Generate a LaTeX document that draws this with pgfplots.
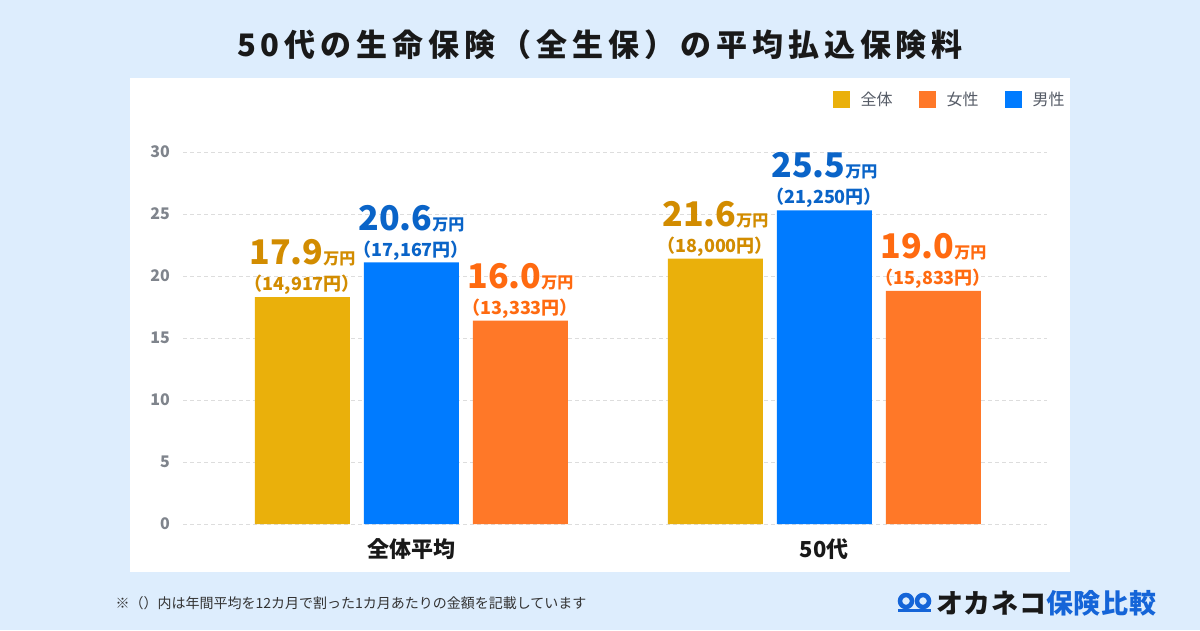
\documentclass[border=0pt]{standalone}
\usepackage{fontspec}
\setmainfont{Noto Sans CJK JP}
\usepackage{pgfplots}
\pgfplotsset{compat=1.18}
\definecolor{bg}{HTML}{DDEDFD}
\definecolor{cyel}{HTML}{EAB00B}
\definecolor{cblu}{HTML}{007BFF}
\definecolor{cora}{HTML}{FF7828}
\definecolor{tyel}{HTML}{D28C00}
\definecolor{tblu}{HTML}{0A64C8}
\definecolor{tora}{HTML}{FF6A10}
\definecolor{ticktxt}{HTML}{7F848C}
\definecolor{legtxt}{HTML}{555B66}
\definecolor{gridc}{HTML}{DDDDDD}
\definecolor{logoblue}{HTML}{1565D8}
\def\barlab#1/#2\relax{{\fontsize{34}{34}\selectfont\bfseries #1}{\fontsize{16}{16}\selectfont\bfseries 万円}\\{\fontsize{18}{18}\selectfont\bfseries （#2円）}}
\begin{document}
\begin{tikzpicture}[x=1pt,y=1pt]
\useasboundingbox (0,0) rectangle (1200,630);
\fill[bg] (0,0) rectangle (1200,630);
\fill[white] (130,58) rectangle (1070,552);
\node[font=\fontsize{31}{31}\selectfont\bfseries\addfontfeature{LetterSpace=16}, text=black!90] at (600,585) {50代の生命保険（全生保）の平均払込保険料};
\begin{axis}[
  at={(183pt,106pt)}, anchor=south west,
  scale only axis, width=864pt, height=372pt,
  xmin=-0.553, xmax=1.539, ymin=0, ymax=30,
  ybar, bar width=95pt,
  xtick={0,1}, xticklabels={全体平均,50代},
  ytick={0,5,...,30},
  ymajorgrids,
  grid style={gridc, line width=1pt, dash pattern=on 4pt off 3pt},
  axis line style={draw=none}, major tick length=0pt,
  clip=false,
  /pgf/number format/assume math mode=true,
  yticklabel style={font=\fontsize{16}{16}\selectfont\bfseries, text=ticktxt, anchor=east, inner sep=0pt, xshift=-13pt},
  xticklabel style={font=\fontsize{22}{22}\selectfont\bfseries, text=black!90, anchor=north, inner sep=0pt, yshift=-14pt},
  point meta=explicit symbolic,
  nodes near coords={\expandafter\barlab\pgfplotspointmeta\relax},
  nodes near coords style={align=center, anchor=south, inner sep=0pt, yshift=2pt, font=\fontsize{18}{26}\selectfont},
  legend columns=3,
  legend style={at={(1.0265,1.172)}, anchor=north east, draw=none, fill=none,
    font=\fontsize{16}{16}\selectfont, text=legtxt,
    /tikz/every odd column/.append style={column sep=9pt},
    /tikz/every even column/.append style={column sep=24pt}},
  legend image code/.code={\draw[#1,draw=none] (0pt,-8.5pt) rectangle (17pt,8.5pt);},
]
\addplot[fill=cyel, draw=none, bar shift=-109pt, nodes near coords style={text=tyel}]
  coordinates {(0,18.3) [17.9/14,917] (1,21.4) [21.6/18,000]};
\addlegendentry{全体}
\addplot[fill=cora, draw=none, bar shift=109pt, nodes near coords style={text=tora}]
  coordinates {(0,16.4) [16.0/13,333] (1,18.8) [19.0/15,833]};
\addlegendentry{女性}
\addplot[fill=cblu, draw=none, bar shift=0pt, nodes near coords style={text=tblu}]
  coordinates {(0,21.1) [20.6/17,167] (1,25.3) [25.5/21,250]};
\addlegendentry{男性}
\end{axis}
\node[anchor=west, font=\fontsize{14}{14}\selectfont, text=black!80] at (112,27) {※（）内は年間平均を12カ月で割った1カ月あたりの金額を記載しています};
\draw[logoblue, line width=4.5pt] (906,29) circle (6);
\draw[logoblue, line width=4.5pt] (923,29) circle (6);
\fill[logoblue] (898,18.5) rectangle (931,21);
\node[anchor=west, font=\fontsize{27}{27}\selectfont\bfseries\addfontfeature{LetterSpace=3}, inner sep=0pt] at (936,27) {\textcolor{black!90}{オカネコ}\textcolor{logoblue}{保険比較}};
\end{tikzpicture}
\end{document}
